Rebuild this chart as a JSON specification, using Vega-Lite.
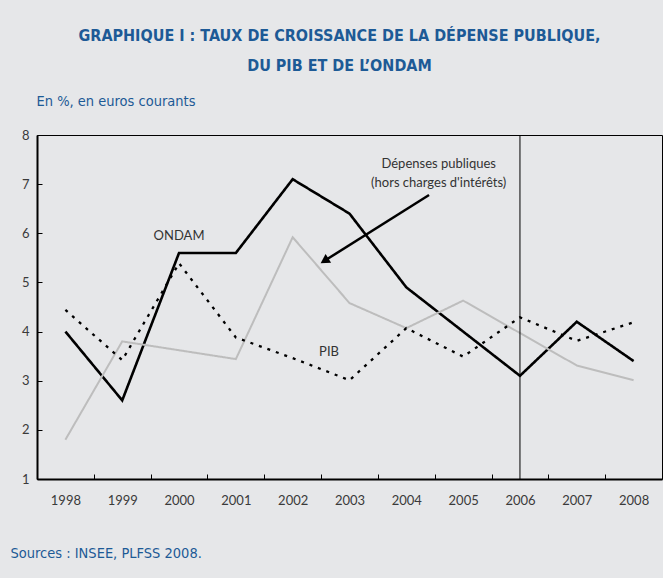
{
  "$schema": "https://vega.github.io/schema/vega-lite/v6.json",
  "width": 625,
  "height": 344,
  "autosize": {"type": "none"},
  "padding": {"left": 37, "top": 135, "right": 1, "bottom": 99},
  "background": "#e6e7e9",
  "title": {
    "text": ["GRAPHIQUE I : TAUX DE CROISSANCE DE LA DÉPENSE PUBLIQUE,", "DU PIB ET DE L’ONDAM"],
    "anchor": "middle",
    "frame": "group",
    "font": "'DejaVu Sans Condensed', 'Liberation Sans Narrow', 'Roboto Condensed', 'Open Sans Condensed', sans-serif",
    "fontSize": 16,
    "fontWeight": "bold",
    "color": "#1d5a96",
    "lineHeight": 30,
    "offset": 19,
    "dx": -10
  },
  "config": {
    "view": {"stroke": "#000000", "strokeWidth": 1},
    "font": "Lato",
    "axis": {"grid": false, "labelFont": "Lato", "labelFontSize": 13, "labelColor": "#3a3a3a"}
  },
  "datasets": {
    "series": [
      {"annee": 1998, "valeur": 4.0, "serie": "ONDAM"},
      {"annee": 1999, "valeur": 2.6, "serie": "ONDAM"},
      {"annee": 2000, "valeur": 5.6, "serie": "ONDAM"},
      {"annee": 2001, "valeur": 5.6, "serie": "ONDAM"},
      {"annee": 2002, "valeur": 7.1, "serie": "ONDAM"},
      {"annee": 2003, "valeur": 6.4, "serie": "ONDAM"},
      {"annee": 2004, "valeur": 4.9, "serie": "ONDAM"},
      {"annee": 2005, "valeur": 4.0, "serie": "ONDAM"},
      {"annee": 2006, "valeur": 3.1, "serie": "ONDAM"},
      {"annee": 2007, "valeur": 4.2, "serie": "ONDAM"},
      {"annee": 2008, "valeur": 3.4, "serie": "ONDAM"},
      {"annee": 1998, "valeur": 1.8, "serie": "Dépenses publiques"},
      {"annee": 1999, "valeur": 3.8, "serie": "Dépenses publiques"},
      {"annee": 2000, "valeur": 3.62, "serie": "Dépenses publiques"},
      {"annee": 2001, "valeur": 3.44, "serie": "Dépenses publiques"},
      {"annee": 2002, "valeur": 5.92, "serie": "Dépenses publiques"},
      {"annee": 2003, "valeur": 4.58, "serie": "Dépenses publiques"},
      {"annee": 2004, "valeur": 4.07, "serie": "Dépenses publiques"},
      {"annee": 2005, "valeur": 4.63, "serie": "Dépenses publiques"},
      {"annee": 2006, "valeur": 3.97, "serie": "Dépenses publiques"},
      {"annee": 2007, "valeur": 3.31, "serie": "Dépenses publiques"},
      {"annee": 2008, "valeur": 3.01, "serie": "Dépenses publiques"},
      {"annee": 1998, "valeur": 4.44, "serie": "PIB"},
      {"annee": 1999, "valeur": 3.42, "serie": "PIB"},
      {"annee": 2000, "valeur": 5.39, "serie": "PIB"},
      {"annee": 2001, "valeur": 3.88, "serie": "PIB"},
      {"annee": 2002, "valeur": 3.46, "serie": "PIB"},
      {"annee": 2003, "valeur": 3.01, "serie": "PIB"},
      {"annee": 2004, "valeur": 4.07, "serie": "PIB"},
      {"annee": 2005, "valeur": 3.49, "serie": "PIB"},
      {"annee": 2006, "valeur": 4.29, "serie": "PIB"},
      {"annee": 2007, "valeur": 3.81, "serie": "PIB"},
      {"annee": 2008, "valeur": 4.19, "serie": "PIB"}
    ],
    "labels": [
      {"annee": 2000, "valeur": 5.95, "texte": "ONDAM"},
      {"annee": 2002.64, "valeur": 3.59, "texte": "PIB"},
      {"annee": 2004.57, "valeur": 7.42, "texte": "Dépenses publiques"},
      {"annee": 2004.57, "valeur": 7.02, "texte": "(hors charges d'intérêts)"}
    ],
    "fleche": [
      {"annee": 2004.4, "valeur": 6.78},
      {"annee": 2002.56, "valeur": 5.44}
    ],
    "pointe": [
      {"annee": 2002.56, "valeur": 5.44}
    ],
    "repere": [
      {"annee": 2006}
    ]
  },
  "resolve": {"axis": {"x": "independent"}},
  "layer": [
    {
      "data": {"name": "series"},
      "mark": {"type": "line", "strokeCap": "butt", "strokeJoin": "miter"},
      "encoding": {
        "x": {
          "field": "annee", "type": "quantitative",
          "scale": {"domain": [1997.5, 2008.5], "nice": false, "zero": false},
          "axis": {
            "orient": "bottom",
            "values": [1998, 1999, 2000, 2001, 2002, 2003, 2004, 2005, 2006, 2007, 2008],
            "format": "d",
            "ticks": false,
            "labelPadding": 15,
            "domain": true,
            "domainColor": "#000000",
            "domainWidth": 2,
            "title": "Sources : INSEE, PLFSS 2008.",
            "titleFont": "'DejaVu Sans Condensed', 'Liberation Sans Narrow', 'Roboto Condensed', sans-serif",
            "titleFontSize": 14.5,
            "titleFontWeight": "normal",
            "titleColor": "#1d5a96",
            "titleAnchor": "start",
            "titleAlign": "left",
            "titleBaseline": "alphabetic",
            "titleX": -27,
            "titleY": 78
          }
        },
        "y": {
          "field": "valeur", "type": "quantitative",
          "scale": {"domain": [1, 8], "nice": false, "zero": false},
          "axis": {
            "values": [1, 2, 3, 4, 5, 6, 7, 8],
            "tickSize": -5,
            "tickColor": "#000000",
            "tickWidth": 1,
            "labelPadding": 13,
            "domainColor": "#000000",
            "domainWidth": 2,
            "title": "En %,  en  euros  courants",
            "titleAngle": 0,
            "titleAlign": "left",
            "titleBaseline": "alphabetic",
            "titleX": -1,
            "titleY": -30,
            "titleFont": "'DejaVu Sans Condensed', 'Liberation Sans Narrow', 'Roboto Condensed', sans-serif",
            "titleFontSize": 14.5,
            "titleFontWeight": "normal",
            "titleColor": "#1d5a96"
          }
        },
        "color": {
          "field": "serie", "type": "nominal",
          "scale": {"domain": ["Dépenses publiques", "PIB", "ONDAM"], "range": ["#bdbdbd", "#000000", "#000000"]},
          "legend": null
        },
        "strokeDash": {
          "field": "serie", "type": "nominal",
          "scale": {"domain": ["Dépenses publiques", "PIB", "ONDAM"], "range": [[1, 0], [3, 6], [1, 0]]},
          "legend": null
        },
        "size": {
          "field": "serie", "type": "nominal",
          "scale": {"domain": ["Dépenses publiques", "PIB", "ONDAM"], "range": [2, 2.6, 2.2]},
          "legend": null
        }
      }
    },
    {
      "data": {"name": "repere"},
      "mark": {"type": "rule", "color": "#000000", "strokeWidth": 1},
      "encoding": {
        "x": {
          "field": "annee", "type": "quantitative",
          "axis": {
            "orient": "bottom",
            "values": [1998.5, 1999.5, 2000.5, 2001.5, 2002.5, 2003.5, 2004.5, 2005.5, 2006.5, 2007.5],
            "labels": false,
            "domain": false,
            "ticks": true,
            "tickSize": -5,
            "tickColor": "#000000",
            "tickWidth": 1,
            "title": null
          }
        }
      }
    },
    {
      "data": {"name": "fleche"},
      "mark": {"type": "line", "color": "#000000", "strokeWidth": 2.5},
      "encoding": {
        "x": {"field": "annee", "type": "quantitative", "axis": null},
        "y": {"field": "valeur", "type": "quantitative"}
      }
    },
    {
      "data": {"name": "pointe"},
      "mark": {"type": "point", "shape": "triangle-up", "filled": true, "color": "#000000", "opacity": 1, "size": 110, "angle": 238},
      "encoding": {
        "x": {"field": "annee", "type": "quantitative", "axis": null},
        "y": {"field": "valeur", "type": "quantitative"}
      }
    },
    {
      "data": {"name": "labels"},
      "mark": {"type": "text", "font": "Lato", "fontSize": 13, "color": "#333333", "align": "center", "baseline": "middle"},
      "encoding": {
        "x": {"field": "annee", "type": "quantitative", "axis": null},
        "y": {"field": "valeur", "type": "quantitative"},
        "text": {"field": "texte"}
      }
    }
  ]
}
